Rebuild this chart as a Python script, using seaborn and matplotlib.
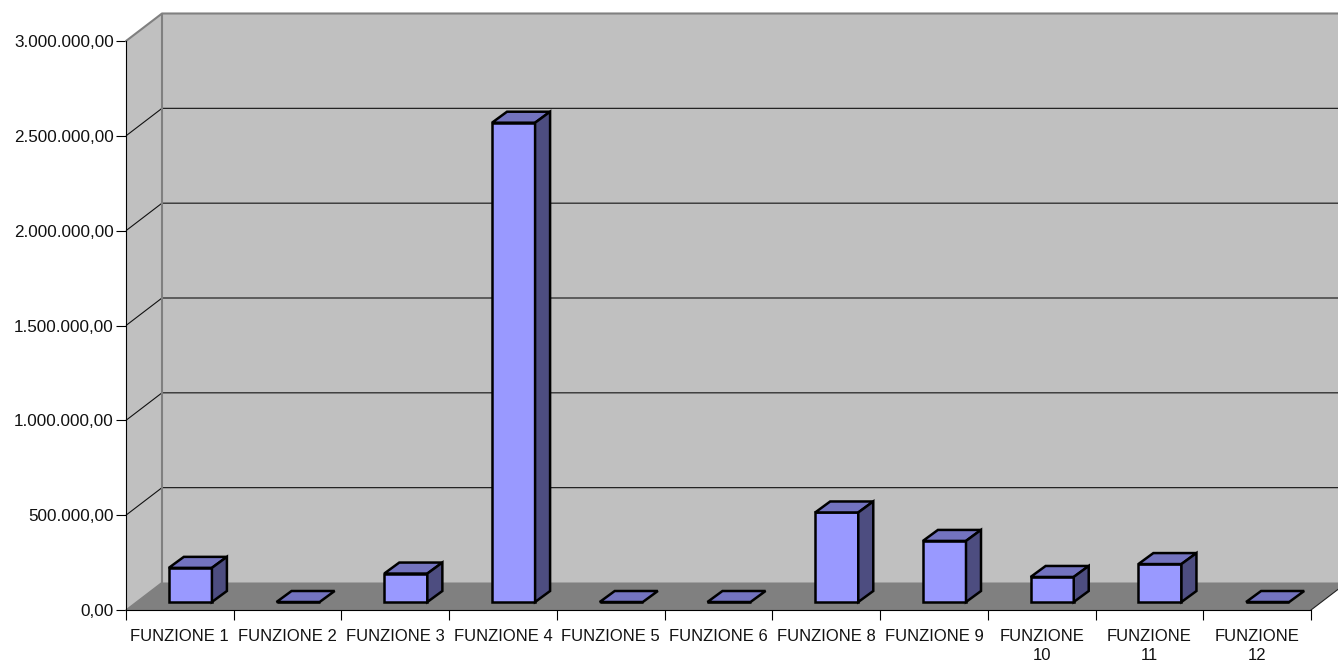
import matplotlib
matplotlib.use("Agg")
import matplotlib.pyplot as plt
from matplotlib.patches import Polygon
from matplotlib.ticker import FuncFormatter
import pandas as pd
import seaborn as sns

categories = ["FUNZIONE 1", "FUNZIONE 2", "FUNZIONE 3", "FUNZIONE 4", "FUNZIONE 5", "FUNZIONE 6",
              "FUNZIONE 8", "FUNZIONE 9", "FUNZIONE\n10", "FUNZIONE\n11", "FUNZIONE\n12"]
values = [180000, 0, 150000, 2527000, 0, 0, 472000, 322000, 132000, 200000, 0]
y_ticks = [0, 500000, 1000000, 1500000, 2000000, 2500000, 3000000]

W, H = 1338, 664
sns.set_theme(style="white")
plt.rcParams["font.family"] = ["Liberation Sans", "DejaVu Sans"]

fig = plt.figure(figsize=(W / 100, H / 100), dpi=100, facecolor="white")
ax = fig.add_axes([126 / W, (H - 610) / H, 1185 / W, 569 / H])

df = pd.DataFrame({"cat": categories, "val": values})
sns.barplot(data=df, x="cat", y="val", ax=ax, width=0.4, color="#9999FF", saturation=1,
            edgecolor="black", linewidth=1.8, zorder=5)

ax.set_xlim(-0.5, len(categories) - 0.5)
ax.set_ylim(0, 3000000)
ax.set_xlabel("")
ax.set_ylabel("")
ax.patch.set_visible(False)

# pixel -> data scale factors for the fake 3D depth
px_x = (len(categories)) / 1185
px_y = 3000000 / 569
wall_dx, wall_dy = 36 * px_x, 27.5 * px_y
bar_ox, bar_oy = 10.5 * px_x, 8 * px_y
bar_dx, bar_dy = 15 * px_x, 11 * px_y
x0, x1 = -0.5, len(categories) - 0.5
ymax = y_ticks[-1]

GRAY = "#808080"
WALL = "#C0C0C0"
poly = dict(clip_on=False, transform=ax.transData)
ax.add_patch(Polygon([(x0 + wall_dx, wall_dy), (x1 + wall_dx + 1, wall_dy),
                      (x1 + wall_dx + 1, ymax + wall_dy), (x0 + wall_dx, ymax + wall_dy)],
                     fc=WALL, ec="none", zorder=0, **poly))
ax.add_patch(Polygon([(x0, 0), (x0 + wall_dx, wall_dy), (x0 + wall_dx, ymax + wall_dy), (x0, ymax)],
                     fc=WALL, ec="none", zorder=0, **poly))
ax.add_patch(Polygon([(x0, 0), (x1, 0), (x1 + wall_dx, wall_dy), (x0 + wall_dx, wall_dy)],
                     fc=GRAY, ec="none", zorder=1, **poly))
for v in y_ticks[1:-1]:
    ax.plot([x0, x0 + wall_dx, x1 + wall_dx + 1], [v, v + wall_dy, v + wall_dy],
            color="#111111", lw=0.8, clip_on=False, zorder=2, solid_capstyle="butt")
ax.plot([x0, x0 + wall_dx, x1 + wall_dx + 1], [ymax, ymax + wall_dy, ymax + wall_dy],
        color=GRAY, lw=1.5, clip_on=False, zorder=2)
ax.plot([x0 + wall_dx, x0 + wall_dx], [wall_dy, ymax + wall_dy], color=GRAY, lw=1.5, clip_on=False, zorder=2)
ax.plot([x0, x0 + wall_dx], [0, wall_dy], color=GRAY, lw=1.0, clip_on=False, zorder=2)
ax.plot([x1, x1 + wall_dx], [0, wall_dy], color="#222222", lw=0.8, clip_on=False, zorder=2)

# bars: shift the seaborn-drawn front faces, then add top and side faces
for p, v in zip(ax.containers[0], values):
    p.set_x(p.get_x() + bar_ox)
    p.set_y(bar_oy)
    p.set_height(v)
    p.set_clip_on(False)
    p.set_joinstyle("miter")
    l, r = p.get_x(), p.get_x() + p.get_width()
    b, t = bar_oy, bar_oy + v
    ax.add_patch(Polygon([(l, t), (r, t), (r + bar_dx, t + bar_dy), (l + bar_dx, t + bar_dy)],
                         fc="#7373BF", ec="black", lw=1.8, zorder=5, **poly))
    if v > 0:
        ax.add_patch(Polygon([(r, b), (r + bar_dx, b + bar_dy), (r + bar_dx, t + bar_dy), (r, t)],
                             fc="#4D4D80", ec="black", lw=1.8, zorder=5, **poly))

for s in ("top", "right"):
    ax.spines[s].set_visible(False)
for s in ("left", "bottom"):
    ax.spines[s].set_color("black")
    ax.spines[s].set_linewidth(0.8)
    ax.spines[s].set_zorder(3)

ax.set_yticks(y_ticks)
ax.yaxis.set_major_formatter(FuncFormatter(lambda v, _: f"{v:,.2f}".replace(",", "X").replace(".", ",").replace("X", ".")))
ax.tick_params(axis="y", left=True, length=7.2, width=0.8, color="black", labelsize=12.3, pad=1.5, labelcolor="#111111")
ax.set_xticks(range(len(categories)))
ax.set_xticklabels(categories, linespacing=1.35)
ax.tick_params(axis="x", which="major", bottom=False, length=0, labelsize=12, pad=13.5, labelcolor="#111111")
ax.set_xticks([x0 + i for i in range(len(categories) + 1)], minor=True)
ax.tick_params(axis="x", which="minor", bottom=True, length=7.2, width=0.8, color="black")

fig.savefig("out.png", dpi=100, facecolor="white")
